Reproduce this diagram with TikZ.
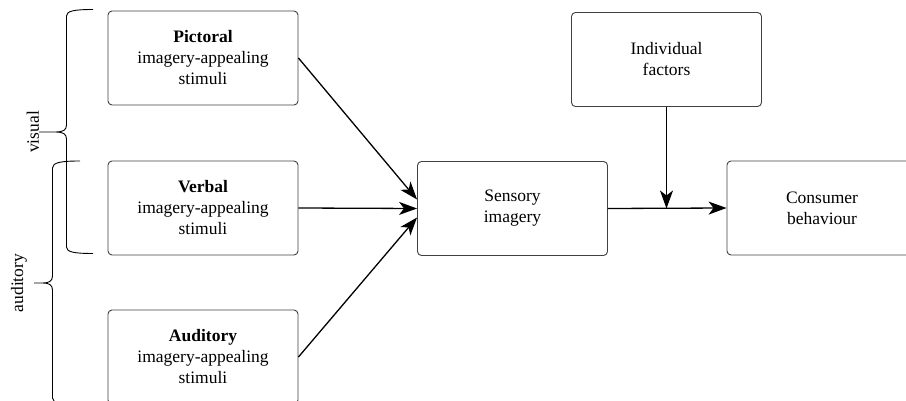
\documentclass[tikz,border=0pt]{standalone}
\usepackage{fontspec}
\setmainfont{Liberation Serif}
\newfontfamily\boxfont{Liberation Serif}
\usetikzlibrary{arrows.meta}

\tikzset{
  box/.style = {draw=black!75, line width=0.9pt, rounded corners=4pt,
    minimum width=190pt, minimum height=94pt, align=center,
    font=\boxfont\fontsize{17.5}{21}\selectfont},
  link/.style = {line width=1.3pt, -{Stealth[length=18pt,width=13pt,inset=5pt]}},
  bracket/.style = {line width=0.9pt},
  side/.style = {rotate=90, font=\boxfont\fontsize{17.5}{21}\selectfont}
}

\begin{document}
\begin{tikzpicture}[x=1pt, y=-1pt]
\clip (0,0) rectangle (906,401);

\node[box] (pict) at (203,58) {\textbf{Pictoral}\\imagery-appealing\\stimuli};
\node[box] (verb) at (203,208) {\textbf{Verbal}\\imagery-appealing\\stimuli};
\node[box] (aud) at (203,357) {\textbf{Auditory}\\imagery-appealing\\stimuli};
\node[box] (sens) at (512.5,208.5) {Sensory\\imagery};
\node[box] (indiv) at (666.5,59.5) {Individual\\factors};
\node[box] (cons) at (822,208) {Consumer\\behaviour};

\coordinate (join) at (indiv.south |- sens.east);

% brackets on the left
\draw[bracket] (93,9.5) .. controls (74,9.5) and (66.5,11) .. (66.5,16)
  -- (66.5,125) .. controls (66.5,130) and (63,132) .. (56,132) -- (39,132)
  -- (56,132) .. controls (63,132) and (66.5,134) .. (66.5,139)
  -- (66.5,247) .. controls (66.5,252) and (74,253.5) .. (93,253.5);
\draw[bracket] (80,161) .. controls (61,161) and (52.5,162.5) .. (52.5,168)
  -- (52.5,276) .. controls (52.5,281) and (49,283) .. (43,283) -- (34,283)
  -- (43,283) .. controls (49,283) and (52.5,285) .. (52.5,290)
  -- (52.5,398) .. controls (52.5,403) and (61,405) .. (80,405);
\node[side] (vis) at (33,132) {visual};
\node[side] (audi) at (19,283) {auditory};

\draw[link] (pict.east) -- ([yshift=9pt]sens.west);
\draw[link] (verb.east) -- (sens.west);
\draw[link] (aud.east) -- ([yshift=-9pt]sens.west);
\draw[link] (sens.east) -- (cons.west);
\draw[link] (indiv.south) -- (join);
\end{tikzpicture}
\end{document}
